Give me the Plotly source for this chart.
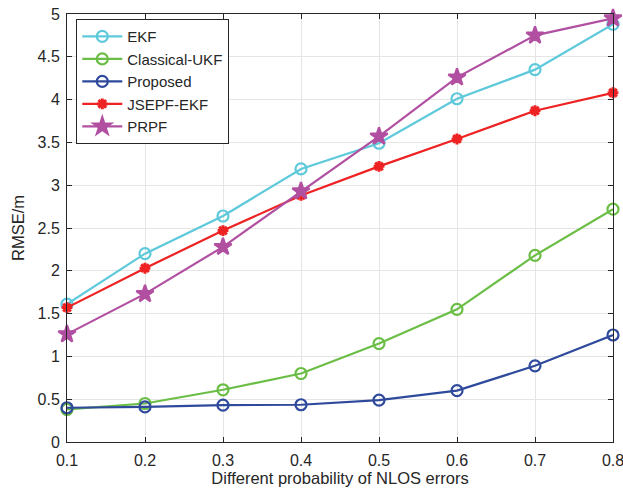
import plotly.graph_objects as go

x_vals = [0.1, 0.2, 0.3, 0.4, 0.5, 0.6, 0.7, 0.8]
ekf = [1.61, 2.20, 2.64, 3.19, 3.49, 4.01, 4.35, 4.88]
ukf = [0.38, 0.45, 0.61, 0.80, 1.15, 1.55, 2.18, 2.72]
proposed = [0.40, 0.41, 0.43, 0.435, 0.49, 0.60, 0.89, 1.25]
jsepf = [1.57, 2.03, 2.47, 2.88, 3.22, 3.54, 3.87, 4.08]
prpf = [1.26, 1.73, 2.28, 2.93, 3.57, 4.26, 4.75, 4.95]

series = [
    ("EKF", ekf, "#5EC9DB", "circle-open", 11),
    ("Classical-UKF", ukf, "#6BBE45", "circle-open", 11),
    ("Proposed", proposed, "#2F4A9C", "circle-open", 11),
    ("JSEPF-EKF", jsepf, "#EE2222", "asterisk-open", 9),
    ("PRPF", prpf, "#B14FA1", "star", 13),
]

fig = go.Figure()
for name, ys, color, sym, size in series:
    fig.add_trace(go.Scatter(
        x=x_vals, y=ys, name=name, mode="lines+markers",
        line=dict(color=color, width=2.2),
        marker=dict(symbol=sym, size=size, color=color,
                    line=dict(color=color, width=3 if sym == "asterisk-open" else 2.2)),
        cliponaxis=False,
    ))

axis_common = dict(
    showline=True, linecolor="#262626", linewidth=1, mirror="ticks",
    ticks="inside", ticklen=5, tickcolor="#262626",
    showgrid=True, gridcolor="#E5E5E5", gridwidth=1, zeroline=False,
    automargin=False,
    tickfont=dict(family="Liberation Sans, Arial", size=16, color="#262626"),
)

fig.update_layout(
    width=623, height=498,
    margin=dict(l=67, r=10, t=14, b=56),
    paper_bgcolor="white", plot_bgcolor="white",
    font=dict(family="Liberation Sans, Arial", color="#262626"),
    xaxis=dict(range=[0.1, 0.8], tickvals=x_vals,
               ticktext=[str(v) for v in x_vals],
               ticklabelstandoff=4, ticklabeloverflow="allow",
               title=dict(text="Different probability of NLOS errors",
                          font=dict(size=16.5), standoff=4),
               **axis_common),
    yaxis=dict(range=[0, 5], tickvals=[0, 0.5, 1, 1.5, 2, 2.5, 3, 3.5, 4, 4.5, 5],
               ticktext=["0", "0.5", "1", "1.5", "2", "2.5", "3", "3.5", "4", "4.5", "5"],
               ticklabelstandoff=3,
               title=dict(text="RMSE/m", font=dict(size=16.5), standoff=8),
               **axis_common),
    legend=dict(x=0.017, y=0.988, xanchor="left", yanchor="top",
                bgcolor="white", bordercolor="#262626", borderwidth=1,
                font=dict(size=15, color="#262626"), tracegroupgap=0,
                itemwidth=40),
    showlegend=True,
)

fig.write_html("out.html")
